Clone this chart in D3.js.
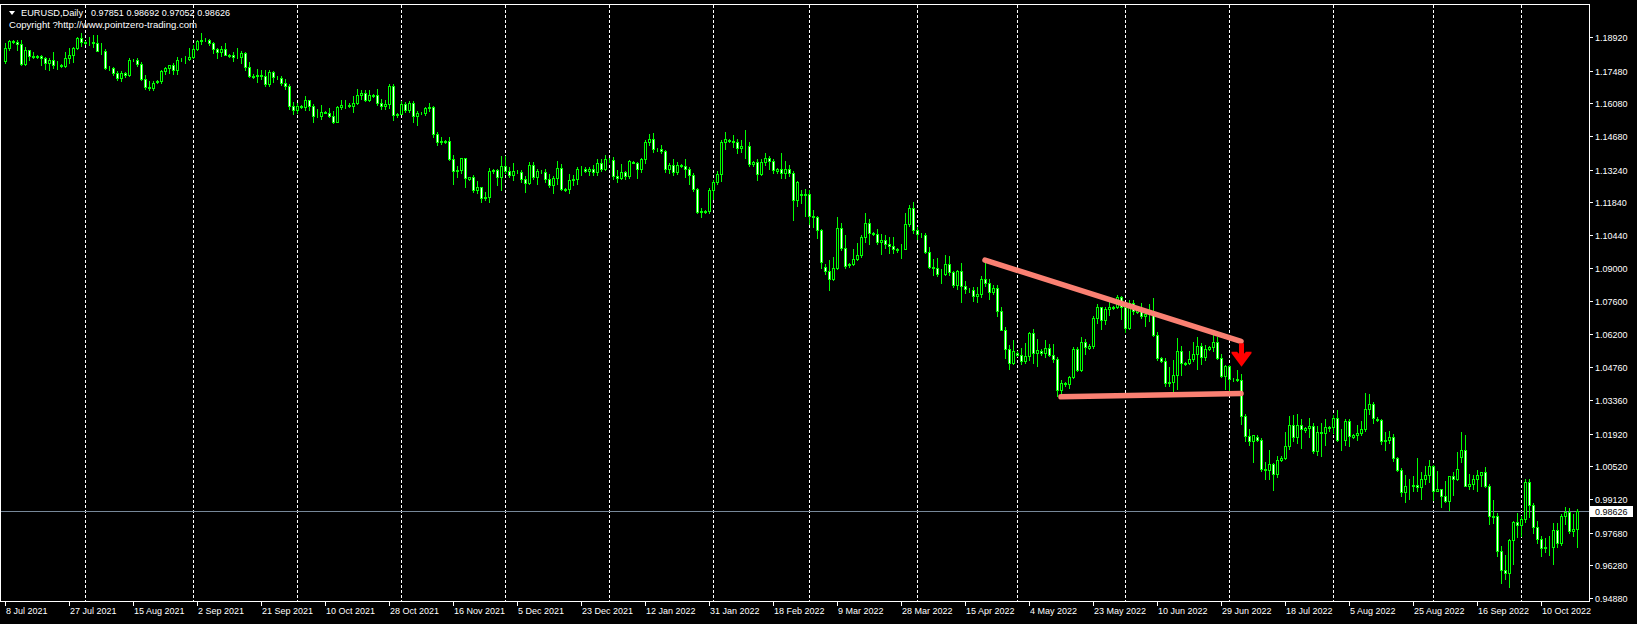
<!DOCTYPE html>
<html><head><meta charset="utf-8">
<script src="https://cdn.jsdelivr.net/npm/d3@7"></script>
<style>html,body{margin:0;padding:0;background:#000;overflow:hidden}svg{display:block}</style>
</head><body>
<svg id="chart" width="1637" height="624"></svg>
<script>
// ---------- header texts ----------
const symbolTitle = "EURUSD,Daily";
const headerValues = ["0.97851", "0.98692", "0.97052", "0.98626"];
const copyrightText = "Copyright ?http://www.pointzero-trading.com";

// ---------- trading calendar (categories) ----------
const firstDate = "2021-07-08";
const lastDate = "2022-10-21";
const lastSundayBar = "2022-08-14";
const missingBars = ["2021-12-26"];

// ---------- OHLC series ----------
const open = [
1.1790,1.1845,
1.1873,1.1872,1.1861,1.1775,1.1836,1.1812,
1.1808,1.1810,1.1801,1.1781,1.1794,1.1771,
1.1772,1.1768,1.1800,1.1817,1.1843,1.1888,
1.1866,1.1872,1.1869,1.1866,1.1834,1.1831,
1.1760,1.1758,1.1736,1.1718,1.1738,1.1728,
1.1792,1.1793,1.1778,1.1712,1.1677,1.1674,
1.1700,1.1702,1.1746,1.1758,1.1772,1.1750,
1.1796,1.1796,1.1798,1.1808,1.1842,1.1875,
1.1880,1.1878,1.1867,1.1839,1.1826,1.1842,
1.1812,1.1813,1.1808,1.1805,1.1822,1.1763,
1.1722,1.1726,1.1729,1.1723,1.1689,1.1740,
1.1718,1.1716,1.1695,1.1683,1.1597,1.1580,
1.1595,1.1594,1.1620,1.1598,1.1553,1.1552,
1.1570,1.1568,1.1552,1.1529,1.1594,1.1600,
1.1601,1.1598,1.1608,1.1644,1.1652,1.1624,
1.1640,1.1642,1.1608,1.1597,1.1603,1.1682,
1.1556,1.1562,1.1606,1.1580,1.1610,1.1553,
1.1565,1.1568,1.1588,1.1594,1.1478,1.1444,
1.1442,1.1446,1.1369,1.1319,1.1320,1.1372,
1.1285,1.1290,1.1236,1.1248,1.1202,1.1208,
1.1316,1.1322,1.1292,1.1338,1.1319,1.1302,
1.1314,1.1312,1.1285,1.1266,1.1343,1.1291,
1.1315,1.1312,1.1284,1.1258,1.1287,1.1330,
1.1237,1.1241,1.1280,1.1283,1.1328,1.1327,
1.1318,1.1328,1.1312,1.1351,1.1326,
1.1366,1.1364,1.1296,1.1288,1.1313,1.1296,
1.1357,1.1353,1.1325,1.1368,1.1440,1.1456,
1.1410,1.1414,1.1403,1.1325,1.1343,1.1313,
1.1342,1.1340,1.1326,1.1302,1.1239,1.1143,
1.1143,1.1146,1.1235,1.1270,1.1305,1.1440,
1.1450,1.1445,1.1440,1.1416,1.1423,1.1427,
1.1347,1.1355,1.1306,1.1357,1.1374,1.1361,
1.1319,1.1325,1.1308,1.1327,1.1308,1.1195,
1.1220,1.1215,1.1219,1.1125,1.1120,1.1063,
1.0905,1.0890,1.0855,1.0901,1.1075,1.0987,
1.0915,1.0920,1.0940,1.0956,1.1033,1.1093,
1.1050,1.1046,1.1015,1.1020,1.1005,1.0996,
1.0980,1.0982,1.0985,1.1089,1.1158,1.1067,
1.1044,1.1042,1.0971,1.0905,1.0902,1.0878,
1.0876,1.0920,1.0886,1.0830,1.0890,1.0827,
1.0808,1.0806,1.0780,1.0790,1.0853,1.0836,
1.0800,1.0815,1.0716,1.0638,1.0557,1.0497,
1.0540,1.0530,1.0505,1.0524,1.0622,1.0540,
1.0545,1.0540,1.0560,1.0530,1.0512,1.0380,
1.0408,1.0405,1.0435,1.0554,1.0465,1.0587,
1.0560,1.0570,1.0690,1.0735,1.0680,1.0726,
1.0730,1.0735,1.0777,1.0734,1.0647,1.0750,
1.0715,1.0720,1.0696,1.0704,1.0716,1.0615,
1.0515,1.0505,1.0409,1.0415,1.0445,1.0546,
1.0490,1.0495,1.0512,1.0535,1.0567,1.0522,
1.0555,1.0565,1.0583,1.0518,1.0441,1.0484,
1.0425,1.0428,1.0424,1.0266,1.0182,1.0162,
1.0180,1.0165,1.0040,1.0036,1.0062,1.0018,
1.0078,1.0088,1.0140,1.0229,1.0180,1.0230,
1.0208,1.0215,1.0225,1.0120,1.0200,1.0196,
1.0215,1.0220,1.0260,1.0163,1.0164,1.0247,
1.0180,1.0185,1.0197,1.0212,1.0298,1.0320,
1.0255,1.0250,1.0160,1.0167,1.0177,1.0088,
1.0037,0.9942,0.9968,0.9969,0.9973,
0.9964,1.0000,1.0016,1.0055,0.9946,
0.9954,0.9927,0.9903,1.0009,1.0000,
1.0092,1.0122,0.9970,0.9978,0.9999,
1.0015,1.0026,0.9970,0.9838,0.9838,
0.9690,0.9606,0.9594,0.9736,0.9815,
0.9801,0.9825,0.9986,0.9885,0.9793,
0.9740,0.9703,0.9705,0.9707,0.9779,
0.9722,0.9838,0.9856,0.9773,0.97851
];
const high = [
1.1868,1.1880,
1.1880,1.1881,1.1880,1.1850,1.1838,1.1829,
1.1815,1.1816,1.1808,1.1802,1.1829,1.1790,
1.1778,1.1829,1.1845,1.1849,1.1892,1.1909,
1.1875,1.1893,1.1899,1.1900,1.1865,1.1840,
1.1766,1.1764,1.1746,1.1747,1.1743,1.1800,
1.1797,1.1804,1.1783,1.1730,1.1703,1.1702,
1.1706,1.1750,1.1764,1.1773,1.1780,1.1805,
1.1802,1.1810,1.1846,1.1858,1.1878,1.1909,
1.1886,1.1885,1.1869,1.1845,1.1855,1.1868,
1.1819,1.1828,1.1846,1.1830,1.1826,1.1786,
1.1733,1.1755,1.1750,1.1750,1.1751,1.1747,
1.1725,1.1726,1.1710,1.1689,1.1612,1.1608,
1.1600,1.1640,1.1623,1.1604,1.1582,1.1600,
1.1575,1.1589,1.1576,1.1598,1.1624,1.1622,
1.1608,1.1640,1.1668,1.1667,1.1667,1.1665,
1.1648,1.1668,1.1625,1.1620,1.1692,1.1692,
1.1566,1.1616,1.1613,1.1616,1.1617,1.1575,
1.1570,1.1593,1.1609,1.1598,1.1485,1.1464,
1.1449,1.1465,1.1386,1.1338,1.1374,1.1375,
1.1294,1.1300,1.1274,1.1250,1.1227,1.1329,
1.1328,1.1327,1.1383,1.1382,1.1334,1.1352,
1.1320,1.1322,1.1295,1.1355,1.1355,1.1325,
1.1320,1.1325,1.1304,1.1298,1.1360,1.1348,
1.1245,1.1303,1.1302,1.1336,1.1341,1.1334,
1.1333,1.1345,1.1369,1.1368,1.1386,
1.1372,1.1377,1.1322,1.1346,1.1316,1.1364,
1.1362,1.1357,1.1373,1.1449,1.1478,1.1482,
1.1418,1.1428,1.1408,1.1350,1.1370,1.1356,
1.1348,1.1369,1.1335,1.1309,1.1244,1.1158,
1.1150,1.1243,1.1279,1.1318,1.1449,1.1484,
1.1455,1.1473,1.1454,1.1449,1.1495,1.1443,
1.1360,1.1371,1.1368,1.1396,1.1384,1.1369,
1.1330,1.1395,1.1362,1.1345,1.1318,1.1274,
1.1235,1.1241,1.1236,1.1152,1.1124,1.1070,
1.0920,1.0935,1.0950,1.1121,1.1096,1.1044,
1.0925,1.0985,1.1008,1.1045,1.1137,1.1112,
1.1058,1.1071,1.1046,1.1043,1.1035,1.1036,
1.0988,1.1006,1.1137,1.1170,1.1185,1.1076,
1.1052,1.1053,1.0993,1.0940,1.0944,1.0898,
1.0956,1.0955,1.0890,1.0895,1.0924,1.0847,
1.0815,1.0820,1.0821,1.0867,1.0936,1.0853,
1.0830,1.0829,1.0737,1.0649,1.0572,1.0594,
1.0548,1.0560,1.0581,1.0630,1.0642,1.0597,
1.0555,1.0593,1.0575,1.0578,1.0522,1.0421,
1.0415,1.0441,1.0564,1.0565,1.0607,1.0598,
1.0575,1.0697,1.0748,1.0737,1.0735,1.0765,
1.0740,1.0787,1.0780,1.0737,1.0765,1.0764,
1.0725,1.0750,1.0710,1.0749,1.0773,1.0630,
1.0520,1.0518,1.0479,1.0506,1.0601,1.0568,
1.0500,1.0545,1.0583,1.0606,1.0581,1.0571,
1.0570,1.0615,1.0606,1.0535,1.0487,1.0486,
1.0432,1.0463,1.0449,1.0276,1.0214,1.0188,
1.0185,1.0174,1.0070,1.0122,1.0068,1.0097,
1.0095,1.0200,1.0269,1.0273,1.0278,1.0254,
1.0220,1.0258,1.0236,1.0224,1.0236,1.0254,
1.0225,1.0274,1.0293,1.0213,1.0254,1.0253,
1.0190,1.0230,1.0248,1.0368,1.0364,1.0330,
1.0262,1.0255,1.0201,1.0202,1.0190,1.0092,
1.0047,1.0017,0.9999,1.0009,1.0090,
1.0028,1.0054,1.0080,1.0056,1.0033,
0.9955,0.9990,1.0011,1.0030,1.0112,
1.0198,1.0187,1.0020,1.0017,1.0037,
1.0029,1.0050,0.9976,0.9907,0.9852,
0.9709,0.9671,0.9739,0.9816,0.9854,
0.9838,0.9999,0.9998,0.9896,0.9816,
0.9752,0.9747,0.9754,0.9808,0.9809,
0.9848,0.9876,0.9875,0.9848,0.98692
];
const low = [
1.1781,1.1837,
1.1866,1.1836,1.1772,1.1771,1.1795,1.1804,
1.1802,1.1772,1.1755,1.1752,1.1761,1.1753,
1.1764,1.1765,1.1780,1.1783,1.1841,1.1853,
1.1862,1.1857,1.1848,1.1831,1.1820,1.1755,
1.1752,1.1729,1.1706,1.1705,1.1720,1.1724,
1.1788,1.1767,1.1706,1.1670,1.1664,1.1664,
1.1694,1.1697,1.1734,1.1737,1.1735,1.1734,
1.1790,1.1781,1.1795,1.1800,1.1837,1.1861,
1.1874,1.1856,1.1822,1.1802,1.1811,1.1814,
1.1806,1.1790,1.1800,1.1782,1.1752,1.1722,
1.1718,1.1701,1.1711,1.1684,1.1680,1.1701,
1.1712,1.1685,1.1669,1.1585,1.1563,1.1566,
1.1588,1.1578,1.1578,1.1529,1.1549,1.1541,
1.1565,1.1551,1.1524,1.1528,1.1584,1.1586,
1.1594,1.1571,1.1605,1.1625,1.1619,1.1617,
1.1636,1.1601,1.1585,1.1585,1.1587,1.1535,
1.1550,1.1560,1.1572,1.1571,1.1528,1.1513,
1.1560,1.1556,1.1575,1.1463,1.1431,1.1432,
1.1436,1.1365,1.1264,1.1292,1.1310,1.1250,
1.1280,1.1226,1.1225,1.1186,1.1195,1.1187,
1.1310,1.1258,1.1235,1.1309,1.1292,1.1279,
1.1308,1.1272,1.1227,1.1263,1.1282,1.1264,
1.1309,1.1270,1.1251,1.1222,1.1260,1.1236,
1.1232,1.1222,1.1258,1.1263,1.1301,1.1312,
1.1299,1.1301,1.1300,1.1318,1.1320,
1.1358,1.1285,1.1272,1.1284,1.1285,1.1287,
1.1350,1.1286,1.1314,1.1352,1.1430,1.1398,
1.1405,1.1395,1.1314,1.1310,1.1300,1.1304,
1.1336,1.1293,1.1263,1.1234,1.1137,1.1121,
1.1136,1.1138,1.1196,1.1263,1.1276,1.1410,
1.1440,1.1422,1.1397,1.1401,1.1373,1.1340,
1.1340,1.1280,1.1299,1.1345,1.1327,1.1311,
1.1310,1.1288,1.1288,1.1298,1.1106,1.1166,
1.1180,1.1125,1.1090,1.1076,1.1032,1.0903,
1.0875,1.0806,1.0850,1.0896,1.0979,1.0904,
1.0905,1.0915,1.0937,1.0950,1.1014,1.1003,
1.1042,1.1003,1.0962,1.0987,1.0965,1.0966,
1.0972,1.0945,1.0983,1.1081,1.1052,1.1028,
1.1037,1.0968,1.0901,1.0873,1.0869,1.0837,
1.0870,1.0872,1.0821,1.0810,1.0758,1.0795,
1.0800,1.0761,1.0757,1.0778,1.0825,1.0770,
1.0790,1.0697,1.0635,1.0515,1.0471,1.0490,
1.0525,1.0491,1.0493,1.0506,1.0493,1.0483,
1.0530,1.0520,1.0523,1.0499,1.0355,1.0350,
1.0395,1.0389,1.0431,1.0460,1.0462,1.0532,
1.0555,1.0560,1.0666,1.0642,1.0661,1.0700,
1.0725,1.0731,1.0682,1.0627,1.0641,1.0703,
1.0710,1.0687,1.0653,1.0674,1.0610,1.0507,
1.0500,1.0398,1.0398,1.0359,1.0382,1.0445,
1.0485,1.0490,1.0504,1.0469,1.0490,1.0510,
1.0550,1.0545,1.0512,1.0437,1.0382,1.0366,
1.0418,1.0418,1.0235,1.0162,1.0144,1.0072,
1.0160,1.0032,0.9999,0.9998,0.9952,1.0008,
1.0075,1.0082,1.0128,1.0159,1.0154,1.0130,
1.0200,1.0180,1.0109,1.0100,1.0097,1.0145,
1.0205,1.0197,1.0160,1.0123,1.0145,1.0141,
1.0175,1.0164,1.0185,1.0202,1.0275,1.0236,
1.0245,1.0150,1.0123,1.0152,1.0075,1.0033,
0.9926,0.9901,0.9911,0.9947,0.9945,
0.9914,0.9978,0.9983,0.9910,0.9945,
0.9877,0.9900,0.9864,0.9929,0.9994,
1.0070,0.9966,0.9955,0.9956,0.9945,
0.9966,0.9965,0.9807,0.9808,0.9667,
0.9552,0.9570,0.9536,0.9635,0.9749,
0.9752,0.9815,0.9836,0.9767,0.9724,
0.9670,0.9686,0.9673,0.9632,0.9705,
0.9715,0.9807,0.9765,0.9755,0.97052
];
const close = [
1.1845,1.1876,
1.1872,1.1861,1.1775,1.1836,1.1812,1.1806,
1.1810,1.1801,1.1781,1.1794,1.1771,1.1771,
1.1768,1.1800,1.1817,1.1843,1.1888,1.1870,
1.1872,1.1869,1.1866,1.1834,1.1831,1.1761,
1.1758,1.1736,1.1718,1.1738,1.1728,1.1794,
1.1793,1.1778,1.1712,1.1677,1.1674,1.1697,
1.1702,1.1746,1.1758,1.1772,1.1750,1.1795,
1.1796,1.1798,1.1808,1.1842,1.1875,1.1880,
1.1878,1.1867,1.1839,1.1826,1.1842,1.1815,
1.1813,1.1808,1.1805,1.1822,1.1763,1.1725,
1.1726,1.1729,1.1723,1.1689,1.1740,1.1720,
1.1716,1.1695,1.1683,1.1597,1.1580,1.1596,
1.1594,1.1620,1.1598,1.1553,1.1552,1.1572,
1.1568,1.1552,1.1529,1.1594,1.1600,1.1601,
1.1598,1.1608,1.1644,1.1652,1.1624,1.1643,
1.1642,1.1608,1.1597,1.1603,1.1682,1.1558,
1.1562,1.1606,1.1580,1.1610,1.1553,1.1567,
1.1568,1.1588,1.1594,1.1478,1.1444,1.1446,
1.1446,1.1369,1.1319,1.1320,1.1372,1.1287,
1.1290,1.1236,1.1248,1.1202,1.1208,1.1318,
1.1322,1.1292,1.1338,1.1319,1.1302,1.1316,
1.1312,1.1285,1.1266,1.1343,1.1291,1.1317,
1.1312,1.1284,1.1258,1.1287,1.1330,1.1239,
1.1241,1.1280,1.1283,1.1328,1.1327,1.1318,
1.1328,1.1312,1.1351,1.1326,1.1370,
1.1364,1.1296,1.1288,1.1313,1.1296,1.1359,
1.1353,1.1325,1.1368,1.1440,1.1456,1.1412,
1.1414,1.1403,1.1325,1.1343,1.1313,1.1344,
1.1340,1.1326,1.1302,1.1239,1.1143,1.1145,
1.1146,1.1235,1.1270,1.1305,1.1440,1.1453,
1.1445,1.1440,1.1416,1.1423,1.1427,1.1349,
1.1355,1.1306,1.1357,1.1374,1.1361,1.1322,
1.1325,1.1308,1.1327,1.1308,1.1195,1.1270,
1.1215,1.1219,1.1125,1.1120,1.1063,1.0929,
1.0890,1.0855,1.0901,1.1075,1.0987,1.0911,
1.0920,1.0940,1.0956,1.1033,1.1093,1.1051,
1.1046,1.1015,1.1020,1.1005,1.0996,1.0984,
1.0982,1.0985,1.1089,1.1158,1.1067,1.1046,
1.1042,1.0971,1.0905,1.0902,1.0878,1.0876,
1.0920,1.0886,1.0830,1.0890,1.0827,1.0810,
1.0806,1.0780,1.0790,1.0853,1.0836,1.0798,
1.0815,1.0716,1.0638,1.0557,1.0497,1.0545,
1.0530,1.0505,1.0524,1.0622,1.0540,1.0551,
1.0540,1.0560,1.0530,1.0512,1.0380,1.0410,
1.0405,1.0435,1.0554,1.0465,1.0587,1.0563,
1.0570,1.0690,1.0735,1.0680,1.0726,1.0733,
1.0735,1.0777,1.0734,1.0647,1.0750,1.0719,
1.0720,1.0696,1.0704,1.0716,1.0615,1.0517,
1.0505,1.0409,1.0415,1.0445,1.0546,1.0494,
1.0495,1.0512,1.0535,1.0567,1.0522,1.0554,
1.0565,1.0583,1.0518,1.0441,1.0484,1.0426,
1.0428,1.0424,1.0266,1.0182,1.0162,1.0185,
1.0165,1.0040,1.0036,1.0062,1.0018,1.0080,
1.0088,1.0140,1.0229,1.0180,1.0230,1.0212,
1.0215,1.0225,1.0120,1.0200,1.0196,1.0222,
1.0220,1.0260,1.0163,1.0164,1.0247,1.0182,
1.0185,1.0197,1.0212,1.0298,1.0320,1.0259,
1.0250,1.0160,1.0167,1.0177,1.0088,1.0037,
0.9942,0.9968,0.9969,0.9973,0.9964,
1.0000,1.0016,1.0055,0.9946,0.9954,
0.9927,0.9903,1.0009,1.0000,1.0041,
1.0122,0.9970,0.9978,0.9999,1.0015,
1.0026,0.9970,0.9838,0.9836,0.9690,
0.9606,0.9594,0.9736,0.9815,0.9801,
0.9825,0.9986,0.9885,0.9793,0.9740,
0.9703,0.9705,0.9707,0.9779,0.9722,
0.9838,0.9856,0.9773,0.9785,0.98626
];
const bidPrice = 0.98626;

// ---------- axis ticks ----------
const priceTicks = [1.18920,1.17480,1.16080,1.14680,1.13240,1.11840,1.10440,1.09000,1.07600,
  1.06200,1.04760,1.03360,1.01920,1.00520,0.99120,0.97680,0.96280,0.94880];
const timeTicks = ["2021-07-08","2021-07-27","2021-08-15","2021-09-02","2021-09-21","2021-10-10",
  "2021-10-28","2021-11-16","2021-12-05","2021-12-23","2022-01-12","2022-01-31","2022-02-18",
  "2022-03-09","2022-03-28","2022-04-15","2022-05-04","2022-05-23","2022-06-10","2022-06-29",
  "2022-07-18","2022-08-05","2022-08-25","2022-09-16","2022-10-10"];

// ---------- drawn objects ----------
const upperTrendDates = ["2022-04-21", "2022-07-05"];
const upperTrendPrices = [1.0936, 1.0588];
const lowerTrendDates = ["2022-05-13", "2022-07-05"];
const lowerTrendPrices = [1.0350, 1.0364];
const arrowDate = "2022-07-05";
const arrowPrice = 1.0580;

// ---------- build ----------
const parse = d3.utcParse("%Y-%m-%d"), fmt = d3.utcFormat("%Y-%m-%d");
const dates = [];
for (let d = parse(firstDate); d <= parse(lastDate); d = d3.utcDay.offset(d, 1)) {
  const s = fmt(d), wd = d.getUTCDay();
  if (wd === 6) continue;
  if (wd === 0 && s > lastSundayBar) continue;
  if (missingBars.includes(s)) continue;
  dates.push(s);
}
const bars = dates.map((d, i) => ({d, o: open[i], h: high[i], l: low[i], c: close[i]}));

const W = 1637, H = 624;
const plotLeft = 0, plotRight = 1589, plotTop = 4, plotBottom = 601;
const FONT = "'Liberation Sans', Arial, sans-serif";
const LIME = "#00ff00";

const svg = d3.select("#chart").attr("shape-rendering", "crispEdges");
svg.append("rect").attr("width", W).attr("height", H).attr("fill", "#000");

const x = d3.scalePoint().domain(dates).range([5, 5 + 4 * (dates.length - 1)]);
const y = d3.scaleLinear().domain([0.9488, 1.1892]).range([598, 37]);
const px = d => Math.round(x(d));
const py = v => Math.round(y(v));

svg.append("clipPath").attr("id", "plotClip").append("rect")
  .attr("x", plotLeft + 1).attr("y", plotTop + 1)
  .attr("width", plotRight - plotLeft - 1).attr("height", plotBottom - plotTop - 1);
const plot = svg.append("g").attr("clip-path", "url(#plotClip)");

// month grid (dashed)
const monthStarts = dates.filter((d, i) => i > 0 && d.slice(0, 7) !== dates[i - 1].slice(0, 7));
plot.append("g").selectAll("line").data(monthStarts).join("line")
  .attr("x1", d => px(d) + 0.5).attr("x2", d => px(d) + 0.5)
  .attr("y1", plotTop + 1).attr("y2", plotBottom)
  .attr("stroke", "#ffffff").attr("stroke-width", 1).attr("stroke-dasharray", "3,2");

// bid line
plot.append("line")
  .attr("x1", plotLeft).attr("x2", plotRight)
  .attr("y1", py(bidPrice) + 0.5).attr("y2", py(bidPrice) + 0.5)
  .attr("stroke", "#778899").attr("stroke-width", 1);

// candles
const cg = plot.append("g");
cg.selectAll("line.wick").data(bars).join("line").attr("class", "wick")
  .attr("x1", b => px(b.d) + 0.5).attr("x2", b => px(b.d) + 0.5)
  .attr("y1", b => py(b.h)).attr("y2", b => py(b.l) + 1)
  .attr("stroke", LIME).attr("stroke-width", 1);
cg.selectAll("rect.body").data(bars).join("rect").attr("class", "body")
  .attr("x", b => px(b.d) - 1 + 0.5)
  .attr("y", b => py(Math.max(b.o, b.c)) + 0.5)
  .attr("width", 2)
  .attr("height", b => Math.max(0, py(Math.min(b.o, b.c)) - py(Math.max(b.o, b.c))))
  .attr("fill", b => b.c >= b.o ? "#000000" : "#ffffff")
  .attr("stroke", LIME).attr("stroke-width", 1);

// trend lines
const tg = plot.append("g").attr("shape-rendering", "auto");
[[upperTrendDates, upperTrendPrices], [lowerTrendDates, lowerTrendPrices]].forEach(([ds, ps]) => {
  tg.append("line")
    .attr("x1", x(ds[0])).attr("y1", y(ps[0]))
    .attr("x2", x(ds[1])).attr("y2", y(ps[1]))
    .attr("stroke", "#fa8072").attr("stroke-width", 5.5).attr("stroke-linecap", "round");
});

// arrow
const ax = x(arrowDate) + 0.5, ay = y(arrowPrice);
const arrowPts = [[-2.5,0],[2.5,0],[2.5,10.5],[4.5,8.5],[10,8.5],[10,10],[0,23.5],[-10,10],[-10,8.5],[-4.5,8.5],[-2.5,10.5]];
tg.append("path")
  .attr("d", "M" + arrowPts.map(p => (ax + p[0]) + "," + (ay + p[1])).join("L") + "Z")
  .attr("fill", "#ff0000");

// frame
svg.append("rect").attr("x", plotLeft + 0.5).attr("y", plotTop + 0.5)
  .attr("width", plotRight - plotLeft).attr("height", plotBottom - plotTop)
  .attr("fill", "none").attr("stroke", "#ffffff").attr("stroke-width", 1);

// price axis
const pa = svg.append("g");
pa.selectAll("line").data(priceTicks).join("line")
  .attr("x1", plotRight + 1).attr("x2", plotRight + 4)
  .attr("y1", v => py(v) + 0.5).attr("y2", v => py(v) + 0.5)
  .attr("stroke", "#ffffff");
pa.selectAll("text").data(priceTicks).join("text")
  .attr("x", plotRight + 6).attr("y", v => py(v) + 4)
  .attr("fill", "#ffffff").attr("font-family", FONT).attr("font-size", 9)
  .text(v => v.toFixed(5));

// bid label
const by = py(bidPrice);
svg.append("rect").attr("x", plotRight + 1).attr("y", by - 5).attr("width", 43).attr("height", 11)
  .attr("fill", "#ffffff");
svg.append("text").attr("x", plotRight + 6).attr("y", by + 4)
  .attr("fill", "#000000").attr("font-family", FONT).attr("font-size", 9)
  .text(bidPrice.toFixed(5));

// time axis
const ta = svg.append("g");
ta.selectAll("line").data(timeTicks).join("line")
  .attr("x1", d => px(d) + 0.5).attr("x2", d => px(d) + 0.5)
  .attr("y1", plotBottom + 1).attr("y2", plotBottom + 5)
  .attr("stroke", "#ffffff");
const labelFmt = d3.utcFormat("%-d %b %Y");
ta.selectAll("text").data(timeTicks).join("text")
  .attr("x", d => px(d) + 1).attr("y", plotBottom + 13)
  .attr("fill", "#ffffff").attr("font-family", FONT).attr("font-size", 9)
  .text(d => labelFmt(parse(d)));

// header
svg.append("path").attr("d", "M9,11L15,11L12,15Z").attr("fill", "#ffffff").attr("shape-rendering", "auto");
svg.append("text").attr("x", 21).attr("y", 16).attr("fill", "#ffffff")
  .attr("font-family", FONT).attr("font-size", 9.5)
  .attr("textLength", 62).attr("lengthAdjust", "spacingAndGlyphs")
  .text(symbolTitle);
svg.append("text").attr("x", 91).attr("y", 16).attr("fill", "#ffffff")
  .attr("font-family", FONT).attr("font-size", 9)
  .attr("textLength", 139).attr("lengthAdjust", "spacing")
  .text(headerValues.join(" "));
svg.append("text").attr("x", 9).attr("y", 28).attr("fill", "#ffffff")
  .attr("font-family", FONT).attr("font-size", 9.5)
  .attr("textLength", 188).attr("lengthAdjust", "spacingAndGlyphs")
  .text(copyrightText);
</script>
</body></html>
